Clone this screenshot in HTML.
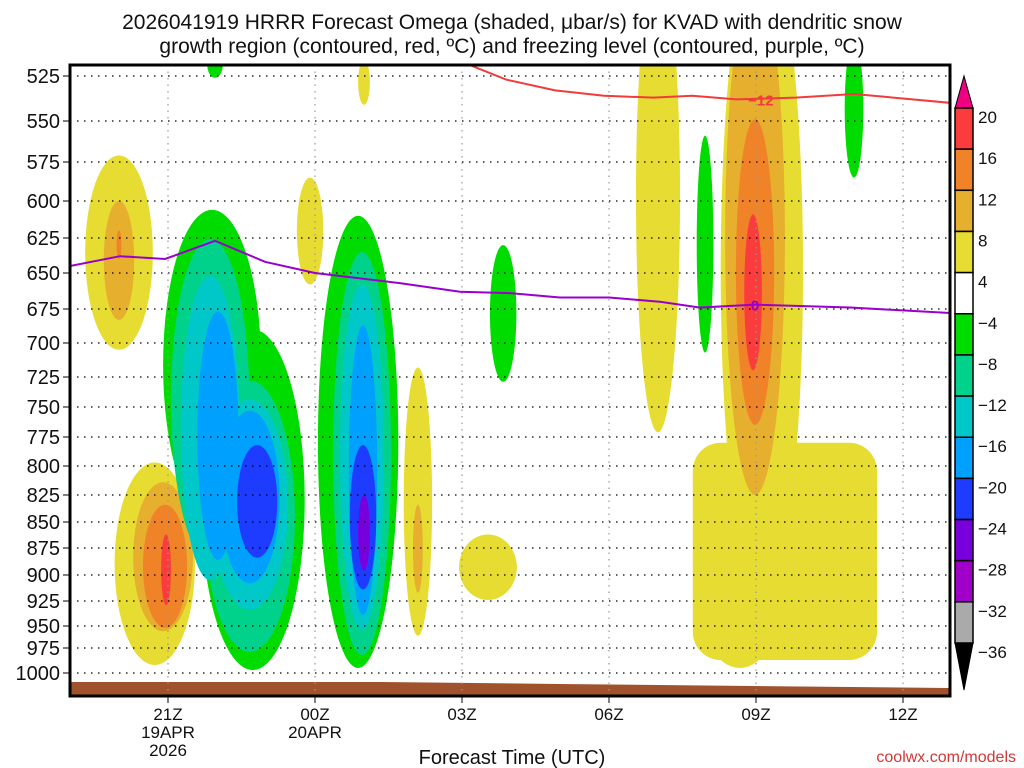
<!DOCTYPE html>
<html><head><meta charset="utf-8"><style>
body{margin:0;background:#fff;width:1024px;height:768px;overflow:hidden}
svg{display:block}
text{font-family:"Liberation Sans",sans-serif;fill:#111}
</style></head><body>
<svg id="c" width="1024" height="768">
<text x="512" y="29" font-size="21" text-anchor="middle">2026041919 HRRR Forecast Omega (shaded, μbar/s) for KVAD with dendritic snow</text>
<text x="512" y="53" font-size="21" text-anchor="middle">growth region (contoured, red, ºC) and freezing level (contoured, purple, ºC)</text>
<defs><clipPath id="pc"><rect x="70" y="65" width="880" height="631"/></clipPath></defs>
<g id="field" clip-path="url(#pc)"></g>
<g id="grid"></g>
<g id="lines" clip-path="url(#pc)"></g>
<rect x="70" y="65" width="880" height="631" fill="none" stroke="#000" stroke-width="3"/>
<g id="axes"></g>
<g id="cbar"></g>
<text x="512" y="764" font-size="20" text-anchor="middle">Forecast Time (UTC)</text>
<text x="1016" y="762" font-size="16" text-anchor="end" style="fill:#d03838">coolwx.com/models</text>
</svg>
<script>
// ---- data ----
const pLevels=[525,550,575,600,625,650,675,700,725,750,775,800,825,850,875,900,925,950,975,1000];
const xTickHours=[2,5,8,11,14,17];
const xTickLabels=[["21Z","19APR","2026"],["00Z","20APR"],["03Z"],["06Z"],["09Z"],["12Z"]];
// contour regions: center time (h after 19Z), half width (h), top / bottom pressure (hPa), omega level
const regT=[2.90,3.73,2.86,3.67,2.86,3.67,3.02,3.67,3.82,5.88,5.96,5.96,5.98,5.98,6.0,7.1,7.1,8.53,4.9,1.73,1.9,1.94,1.96,1.0,1.0,1.0,8.84,12.0,12.96,16.0,14.12,14.59,13.67,13.98,13.98,13.94,2.96,6.0];
const regHW=[1.0,1.06,0.8,0.92,0.6,0.78,0.42,0.61,0.41,0.82,0.59,0.45,0.29,0.27,0.12,0.29,0.1,0.59,0.27,0.82,0.61,0.45,0.1,0.69,0.31,0.05,0.27,0.45,0.17,0.19,0.84,1.88,0.92,0.61,0.39,0.18,0.16,0.12];
const regTop=[606,690,626,728,652,744,677,753,782,610,635,658,687,782,825,718,834,862,585,797,814,834,862,571,600,620,630,461,559,505,450,780,829,472,549,609,511,516];
const regBot=[848,997,886,979,905,934,886,908,884,995,982,954,939,914,896,961,917,924,658,992,956,952,929,705,683,640,729,771,707,585,924,987,995,825,765,720,526,541];
const regLevel=[-4,-4,-8,-8,-12,-12,-16,-16,-20,-4,-8,-12,-16,-20,-24,4,8,4,4,4,8,12,16,4,8,12,-4,4,-4,-4,4,4,4,8,12,16,-4,4];
const regRect=[0,0,0,0,0,0,0,0,0,0,0,0,0,0,0,0,0,0,0,0,0,0,0,0,0,0,0,0,0,0,0,1,0,0,0,0,0,0];
const snowT=[7.8,8.9,9.9,10.9,11.9,12.7,13.6,14.8,16.0,18.0];
const snowP=[515,527,533,536,537,536,538,537,535,540];
const frzT=[0,1.02,1.94,2.96,3.98,5.0,6.73,7.96,8.98,10.0,11.0,12.04,12.86,13.98,15.92,18.0];
const frzP=[645,638,640,627,642,650,657,663,664,667,667,670,674,672,674,678];
const levelKeys=[4,8,12,16,20,-4,-8,-12,-16,-20,-24,-28,-32,-36];
const levelColors=["#e6dc32","#e6af2d","#f08228","#fa3c3c","#f00082","#00dc00","#00d28c","#00c8c8","#00a0ff","#1e3cff","#7800dc","#a000c8","#aaaaaa","#000000"];
const cbLabels=[20,16,12,8,4,-4,-8,-12,-16,-20,-24,-28,-32,-36];
// ---- axes ----
const pY=[76,121,162,201,238,273,309,343,377,407,437,466,495,522,548,575,601,626,648,673];
function py(p){let i=0;if(p<=pLevels[0])i=0;else if(p>=pLevels[pLevels.length-1])i=pLevels.length-2;else while(p>pLevels[i+1])i++;
 return pY[i]+(p-pLevels[i])*(pY[i+1]-pY[i])/(pLevels[i+1]-pLevels[i]);}
function tx(t){return 70+t*49;}
const NS="http://www.w3.org/2000/svg";
function mk(tag,at,par){const e=document.createElementNS(NS,tag);for(const k in at)e.setAttribute(k,at[k]);par.appendChild(e);return e;}
const field=document.getElementById('field');
const order=regT.map((_,i)=>i).sort((a,b)=>(Math.abs(regLevel[a])-Math.abs(regLevel[b]))||(regLevel[b]-regLevel[a]));
order.forEach(i=>{
 const y1=py(regTop[i]),y2=py(regBot[i]),cx=tx(regT[i]),rx=regHW[i]*49,col=levelColors[levelKeys.indexOf(regLevel[i])];
 let e;
 if(regRect[i]) e=mk('rect',{x:cx-rx,y:y1,width:2*rx,height:y2-y1,rx:28,ry:28,fill:col},field);
 else e=mk('ellipse',{cx:cx,cy:(y1+y2)/2,rx:rx,ry:(y2-y1)/2,fill:col},field);
 
 
});
// ground
const g=mk('polygon',{points:"70,682 380,682 560,684 949,688 949,696 70,696",fill:"#a0522d"},field);

// grid
const grid=document.getElementById('grid'),axes=document.getElementById('axes');
pLevels.forEach(p=>{const y=py(p);
 const l=mk('line',{x1:70,x2:950,y1:y,y2:y,stroke:"#000","stroke-dasharray":"1.5 5.5","stroke-width":1.2},grid);
 
 mk('line',{x1:63,x2:70,y1:y,y2:y,stroke:"#000"},axes);
 const t=mk('text',{x:60,y:y+7,"font-size":20,"text-anchor":"end"},axes);t.textContent=p;
 
});
xTickHours.forEach((h,i)=>{const x=tx(h);
 const l=mk('line',{x1:x,x2:x,y1:65,y2:696,stroke:"#999","stroke-dasharray":"1.5 5","stroke-width":1.2},grid);
 
 mk('line',{x1:x,x2:x,y1:696,y2:703,stroke:"#000"},axes);
 xTickLabels[i].forEach((s,j)=>{const t=mk('text',{x:x,y:720+j*18,"font-size":17,"text-anchor":"middle"},axes);t.textContent=s;
  });
});
// lines
const lines=document.getElementById('lines');
function pl(T,P,col,name){const pts=T.map((t,i)=>tx(t)+","+py(P[i])).join(" ");
 const e=mk('polyline',{points:pts,fill:"none",stroke:col,"stroke-width":2},lines);
 }
pl(snowT,snowP,"#f03c3c","dendritic-12c-line");pl(frzT,frzP,"#9900cc","freezing-level-line");
let lb=mk('text',{x:tx(14.1),y:py(538)+6,"font-size":15,"font-weight":"bold","text-anchor":"middle",style:"fill:#f03c3c"},lines);lb.textContent="−12";

lb=mk('text',{x:tx(13.98),y:py(672)+6,"font-size":15,"font-weight":"bold","text-anchor":"middle",style:"fill:#9900cc"},lines);lb.textContent="0";

// colorbar
const cb=document.getElementById('cbar');const cbColors=["#fa3c3c","#f08228","#e6af2d","#e6dc32","#ffffff","#00dc00","#00d28c","#00c8c8","#00a0ff","#1e3cff","#7800dc","#a000c8","#aaaaaa"];
const top0=108,h=(643-108)/13,x0=955,w=18;
mk('polygon',{points:`${x0},${top0} ${x0+w},${top0} ${x0+w/2},76`,fill:"#f00082",stroke:"#000"},cb);
cbColors.forEach((c,i)=>{const r=mk('rect',{x:x0,y:top0+i*h,width:w,height:h,fill:c,stroke:"#000","stroke-width":1.5},cb);
 });
mk('polygon',{points:`${x0},643 ${x0+w},643 ${x0+w/2},690`,fill:"#000",stroke:"#000"},cb);
cbLabels.forEach((v,i)=>{const t=mk('text',{x:978,y:top0+i*h+15,"font-size":17},cb);t.textContent=v<0?"−"+(-v):v;
 });
</script>
</body></html>
